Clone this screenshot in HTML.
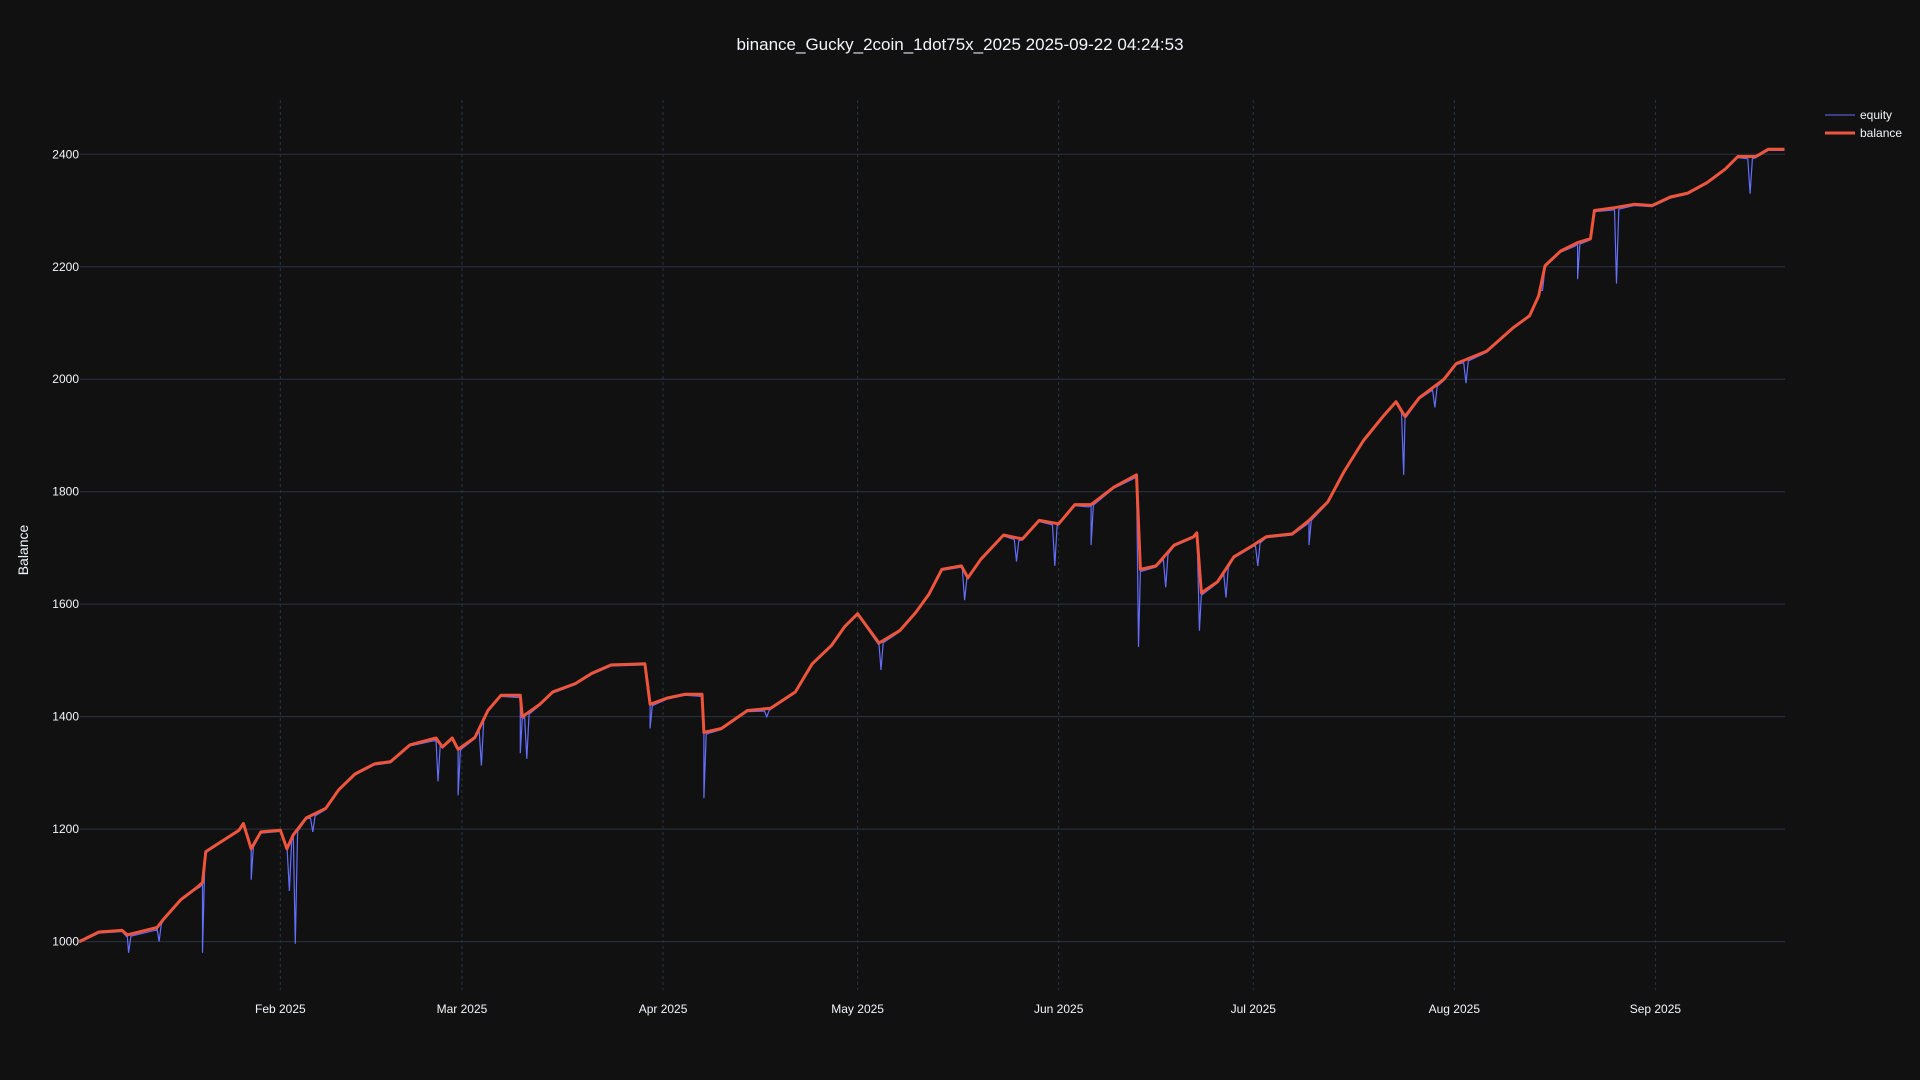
<!DOCTYPE html>
<html><head><meta charset="utf-8"><style>
html,body{margin:0;padding:0;background:#111111;width:1920px;height:1080px;overflow:hidden;font-family:"Liberation Sans",sans-serif;}
</style></head><body>
<svg id="chart" width="1920" height="1080" xmlns="http://www.w3.org/2000/svg" style="display:block">
<rect width="1920" height="1080" fill="#111111"/>
<text x="960" y="50" text-anchor="middle" fill="#f2f5fa" font-size="17">binance_Gucky_2coin_1dot75x_2025 2025-09-22 04:24:53</text>
<text transform="translate(28,550) rotate(-90)" text-anchor="middle" fill="#f2f5fa" font-size="14">Balance</text>
<g id="grid"></g>
<g id="series"></g>
<g>
<g><line x1="1825" y1="115" x2="1855" y2="115" stroke="#636efa" stroke-width="1"/><text x="1860" y="119" fill="#f2f5fa" font-size="12">equity</text></g>
<g><line x1="1825" y1="133" x2="1855" y2="133" stroke="#ef553b" stroke-width="3"/><text x="1860" y="137" fill="#f2f5fa" font-size="12">balance</text></g>
</g>
</svg>
<script>
const yTicks=[1000,1200,1400,1600,1800,2000,2200,2400];
const xTickLabels=["Feb 2025","Mar 2025","Apr 2025","May 2025","Jun 2025","Jul 2025","Aug 2025","Sep 2025"];
const xTickDays=[31,59,90,120,151,181,212,243];
const balDays=[0,3,6.6,7.4,12,13,15.7,18,19,19.5,21.5,24.6,25.3,26.5,28,31,32,33,35,38,40,42.5,45.5,48,51,55,56,57.5,58.4,61,63,65,68,68.3,71,73,76.5,79,82,87.2,88,90.6,93.4,96,96.3,99,103,106.6,110.4,113,116,118,120,123.3,126.5,129,131,133,136,137,139,142.5,145.4,148,151,153.5,156,159.5,163,163.6,166,168.8,171.8,172.3,173,175.5,178,181,183,187,189.6,192.5,195,198,201,203,204.4,206.6,210.4,212.3,217,221,223.6,225,226,228.4,231,233,233.6,236.7,239.7,242.5,245.3,248,251,253.8,255.7,258.5,260.4,262.9];
const balVals=[1000,1017,1020,1012,1025,1040,1075,1095,1105,1160,1175,1198,1210,1165,1195,1198,1165,1190,1220,1237,1270,1298,1316,1320,1350,1362,1346,1362,1342,1363,1411,1438,1438,1400,1422,1444,1459,1477,1492,1494,1422,1433,1440,1440,1372,1379,1411,1415,1444,1494,1527,1560,1583,1531,1553,1586,1618,1662,1668,1647,1680,1723,1716,1749,1743,1777,1777,1808,1830,1662,1668,1705,1720,1727,1620,1640,1684,1705,1720,1725,1749,1782,1836,1891,1934,1960,1934,1967,2000,2028,2050,2091,2113,2148,2202,2228,2243,2250,2300,2305,2311,2309,2324,2331,2350,2374,2396,2396,2409,2409];
const dipDays=[7.6,12.3,19,26.5,32.4,33.3,36,55.3,58.4,62,68,69,88,96.3,106,123.6,136.5,144.5,150.4,156,163.3,167.5,172.7,176.8,181.7,189.6,204.2,209,213.8,225.6,231,237,257.6];
const dipVals=[980,1000,980,1110,1090,996,1195,1285,1260,1313,1335,1325,1379,1255,1400,1483,1607,1676,1668,1705,1524,1630,1553,1612,1668,1705,1830,1950,1993,2158,2178,2170,2330];

const NS="http://www.w3.org/2000/svg";
const X0=79.3, PD=6.486, L=80, R=1785;
function xs(d){return X0+d*PD;}
function ys(v){return 941.6-(v-1000)/1400*787.3;}
function bal(d){
  if(d<=balDays[0])return balVals[0];
  for(let i=1;i<balDays.length;i++){if(d<=balDays[i]){const t=(d-balDays[i-1])/(balDays[i]-balDays[i-1]);return balVals[i-1]+t*(balVals[i]-balVals[i-1]);}}
  return balVals[balVals.length-1];
}
const grid=document.getElementById('grid');
yTicks.forEach(v=>{
  const l=document.createElementNS(NS,'line');
  l.setAttribute('x1',L);l.setAttribute('x2',R);l.setAttribute('y1',ys(v));l.setAttribute('y2',ys(v));
  l.setAttribute('stroke','#283442');l.setAttribute('stroke-width','1');
  
  
  grid.appendChild(l);
  const t=document.createElementNS(NS,'text');
  t.setAttribute('x',L-1);t.setAttribute('y',ys(v)+4);t.setAttribute('text-anchor','end');
  t.setAttribute('fill','#f2f5fa');t.setAttribute('font-size','12');t.textContent=v;
  
  
  grid.appendChild(t);
});
xTickDays.forEach((d,i)=>{
  const l=document.createElementNS(NS,'line');
  l.setAttribute('x1',xs(d));l.setAttribute('x2',xs(d));l.setAttribute('y1',100);l.setAttribute('y2',990);
  l.setAttribute('stroke','#283442');l.setAttribute('stroke-dasharray','3,3');
  
  
  grid.appendChild(l);
  const t=document.createElementNS(NS,'text');
  t.setAttribute('x',xs(d));t.setAttribute('y',1013);t.setAttribute('text-anchor','middle');
  t.setAttribute('fill','#f2f5fa');t.setAttribute('font-size','12');t.textContent=xTickLabels[i];
  
  
  grid.appendChild(t);
});
// equity path: balance with dips
let pts=[];
balDays.forEach((d,i)=>pts.push([d,balVals[i]-2]));
dipDays.forEach((d,i)=>{pts.push([d-0.35,bal(d-0.35)-4]);pts.push([d,dipVals[i]]);pts.push([d+0.35,bal(d+0.35)-4]);});
pts.sort((a,b)=>a[0]-b[0]);
const s=document.getElementById('series');
const eq=document.createElementNS(NS,'path');
eq.setAttribute('d',pts.map((p,i)=>(i?'L':'M')+xs(p[0]).toFixed(1)+','+ys(p[1]).toFixed(1)).join(''));
eq.setAttribute('fill','none');eq.setAttribute('stroke','#636efa');eq.setAttribute('stroke-width','1.2');


s.appendChild(eq);
const bl=document.createElementNS(NS,'path');
bl.setAttribute('d',balDays.map((d,i)=>(i?'L':'M')+xs(d).toFixed(1)+','+ys(balVals[i]).toFixed(1)).join(''));
bl.setAttribute('fill','none');bl.setAttribute('stroke','#ef553b');bl.setAttribute('stroke-width','3');bl.setAttribute('stroke-linejoin','round');


s.appendChild(bl);
</script>
</body></html>
